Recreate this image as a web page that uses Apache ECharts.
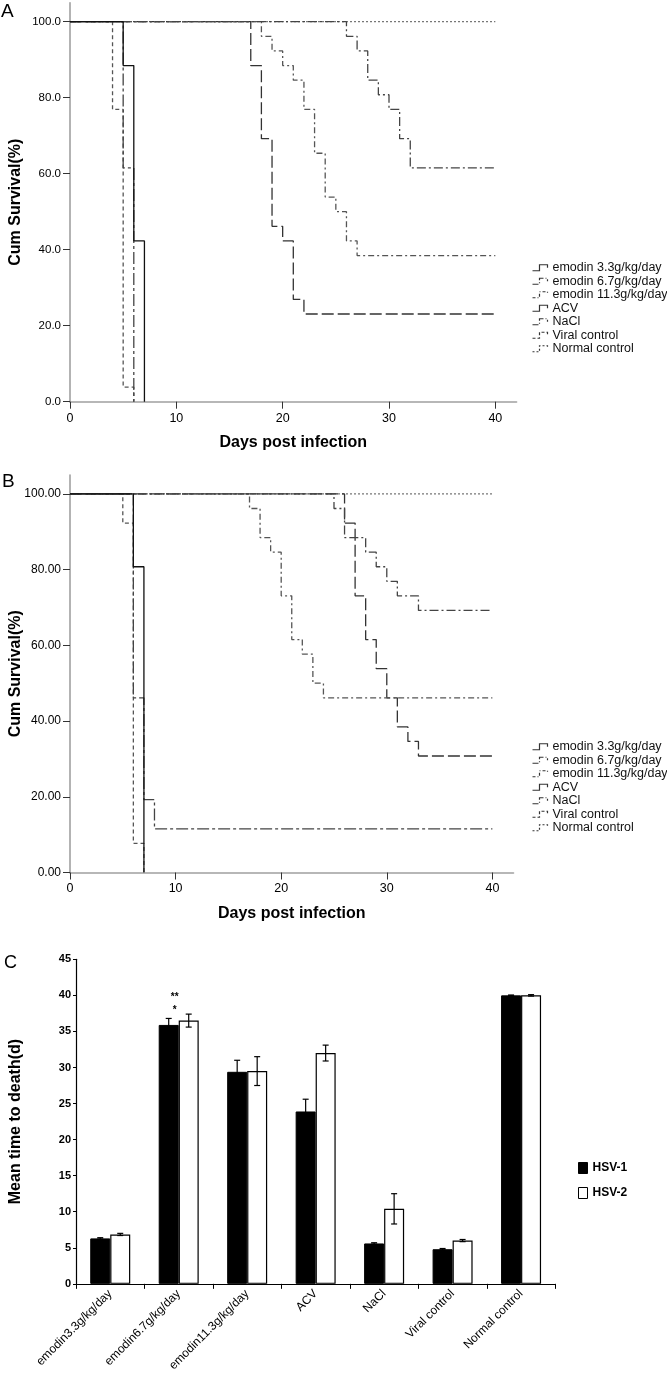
<!DOCTYPE html>
<html><head><meta charset="utf-8">
<script src="https://cdn.jsdelivr.net/npm/echarts@6/dist/echarts.min.js"></script>
<style>html,body{margin:0;padding:0;background:#fff}#c{width:667px;height:1374px}</style>
</head><body><div id="c"></div>
<script>
// ---------- data ----------
const groups = ['emodin 3.3g/kg/day','emodin 6.7g/kg/day','emodin 11.3g/kg/day','ACV','NaCl','Viral control','Normal control'];
const dayTicks = [0,10,20,30,40];
const survTicks = [0,20,40,60,80,100];

// Panel A (HSV-1) Kaplan-Meier steps: [day, cumulative survival %]
const A_emodin33 = [[0,100],[5,88.46],[6,42.31],[7,0]];
const A_emodin67 = [[0,100],[26,96.15],[27,92.31],[28,84.62],[29,80.77],[30,76.92],[31,69.23],[32,61.54],[40,61.54]];
const A_emodin113 = [[0,100],[18,96.15],[19,92.31],[20,88.46],[21,84.62],[22,76.92],[23,65.38],[24,53.85],[25,50],[26,42.31],[27,38.46],[40,38.46]];
const A_acv = [[0,100],[17,88.46],[18,69.23],[19,46.15],[20,42.31],[21,26.92],[22,23.08],[40,23.08]];
const A_nacl = [[0,100],[5,61.54],[6,0]];
const A_viral = [[0,100],[4,76.92],[5,3.85],[6,0]];
const A_normal = [[0,100],[40,100]];

// Panel B (HSV-2)
const B_emodin33 = [[0,100],[6,80.77],[7,0]];
const B_emodin67 = [[0,100],[25,96.15],[26,88.46],[28,84.62],[29,80.77],[30,76.92],[31,73.08],[33,69.23],[40,69.23]];
const B_emodin113 = [[0,100],[17,96.15],[18,88.46],[19,84.62],[20,73.08],[21,61.54],[22,57.69],[23,50],[24,46.15],[40,46.15]];
const B_acv = [[0,100],[26,92.31],[27,73.08],[28,61.54],[29,53.85],[30,46.15],[31,38.46],[32,34.62],[33,30.77],[40,30.77]];
const B_nacl = [[0,100],[6,46.15],[7,19.23],[8,11.54],[40,11.54]];
const B_viral = [[0,100],[5,92.31],[6,7.69],[7,0]];
const B_normal = [[0,100],[40,100]];

// Panel C
const barCats = ['emodin3.3g/kg/day','emodin6.7g/kg/day','emodin11.3g/kg/day','ACV','NaCl','Viral control','Normal control'];
const hsv1 = [6.3,35.9,29.4,23.9,5.6,4.8,40.0];
const hsv2 = [6.85,36.5,29.5,32.0,10.4,6.0,40.0];
const hsv1Err = [0.1,0.9,1.6,1.7,0.1,0.1,0.05];
const hsv2Err = [0.15,0.9,2.0,1.1,2.1,0.15,0.1];
const sigMarks = [{text:'**', cat:1, y:39.8},{text:'*', cat:1, y:37.9}];

// ---------- styles ----------
const FONT = 'Liberation Sans, Arial, sans-serif';
const lineStyles = [
  {color:'#111', width:1.3, type:'solid'},
  {color:'#444', width:1.3, type:[9,3,2,3]},
  {color:'#555', width:1.3, type:[6,3,2,3]},
  {color:'#333', width:1.3, type:[12,4]},
  {color:'#444', width:1.3, type:[12,3,3,3]},
  {color:'#555', width:1.3, type:[4,3]},
  {color:'#777', width:1.3, type:[2,2]}
];
const iconDash = ['solid',[6,2,1,2],[3,2,1,2],'solid',[6,2,1,2],[3,2],[2,2]];
const STEP_ICON = 'path://M0,7L7,7L7,1L15,1L15,4';
const A_sets = [A_emodin33,A_emodin67,A_emodin113,A_acv,A_nacl,A_viral,A_normal];
const B_sets = [B_emodin33,B_emodin67,B_emodin113,B_acv,B_nacl,B_viral,B_normal];

function kmSeries(sets, idx){
  return sets.map((d,i)=>({
    type:'line', name:groups[i], step:'end', symbol:'none', data:d,
    xAxisIndex:idx, yAxisIndex:idx, lineStyle:lineStyles[i], z: 10 - i,
    emphasis:{disabled:true}
  }));
}
function survX(idx){
  return {
    type:'value', gridIndex:idx, min:0, max:42,
    name:'Days post infection', nameLocation:'middle', nameGap:33, nameMoveOverlap:false,
    nameTextStyle:{fontFamily:FONT, fontSize:16, fontWeight:'bold', color:'#000'},
    axisLine:{lineStyle:{color:'#a0a0a0', width:1.6}},
    axisTick:{customValues:dayTicks, length:7, lineStyle:{color:'#333'}},
    axisLabel:{customValues:dayTicks, margin:10, fontFamily:FONT, fontSize:12.5, color:'#000'},
    splitLine:{show:false}
  };
}
function survY(idx, dec, fs){
  return {
    type:'value', gridIndex:idx, min:0, max:105,
    name:'Cum Survival(%)', nameLocation:'middle', nameGap:46, nameMoveOverlap:false,
    nameTextStyle:{fontFamily:FONT, fontSize:16, fontWeight:'bold', color:'#000'},
    axisLine:{show:true, lineStyle:{color:'#a0a0a0', width:1.6}},
    axisTick:{show:true, customValues:survTicks, length:7, lineStyle:{color:'#333'}},
    axisLabel:{customValues:survTicks, margin:9, fontFamily:FONT, fontSize:fs, color:'#000',
      formatter:v=>v.toFixed(dec)},
    splitLine:{show:false}
  };
}
function errRender(offset){
  return function(params, api){
    const i = api.value(0), v = api.value(1), e = api.value(2);
    const top = api.coord([i, v+e]), bot = api.coord([i, v-e]);
    const x = top[0] + offset;
    const st = {stroke:'#000', lineWidth:1.2};
    return {type:'group', children:[
      {type:'line', shape:{x1:x, y1:top[1], x2:x, y2:bot[1]}, style:st},
      {type:'line', shape:{x1:x-3, y1:top[1], x2:x+3, y2:top[1]}, style:st},
      {type:'line', shape:{x1:x-3, y1:bot[1], x2:x+3, y2:bot[1]}, style:st}
    ]};
  };
}
const legendKM = (top)=>({
  data:groups.map((g,i)=>({name:g, icon:STEP_ICON,
    itemStyle:{color:'none', borderColor:'#333', borderWidth:1.2, borderType:iconDash[i]}})),
  orient:'vertical', left:525, top:top, itemWidth:15, itemHeight:7, itemGap:0,
  selectedMode:false,
  textStyle:{fontFamily:FONT, fontSize:12.5, color:'#111', lineHeight:13.5}
});

const option = {
  animation:false,
  backgroundColor:'#fff',
  grid:[
    {left:63, top:2.7, width:453.6, height:399},
    {left:67, top:475, width:446.5, height:397.5},
    {left:69, top:959.3, width:486.3, height:327.7}
  ],
  legend:[
    legendKM(256),
    legendKM(735),
    {data:[{name:'HSV-1', itemStyle:{color:'#000', borderColor:'#000', borderWidth:1}},
           {name:'HSV-2', itemStyle:{color:'#fff', borderColor:'#000', borderWidth:1}}],
     orient:'vertical', left:573, top:1157, itemWidth:9, itemHeight:11, itemGap:13, icon:'rect',
     selectedMode:false,
     textStyle:{fontFamily:FONT, fontSize:12, fontWeight:'bold', color:'#000'}}
  ],
  xAxis:[
    survX(0), survX(1),
    {type:'category', gridIndex:2, data:barCats,
     axisLine:{lineStyle:{color:'#000', width:1.2}},
     axisTick:{show:true, length:5, lineStyle:{color:'#000'}},
     axisLabel:{rotate:45, interval:0, margin:8, fontFamily:FONT, fontSize:12, color:'#000'}}
  ],
  yAxis:[
    survY(0,1,11.5), survY(1,2,12),
    {type:'value', gridIndex:2, min:0, max:45, interval:5,
     name:'Mean time to death(d)', nameLocation:'middle', nameGap:52, nameMoveOverlap:false,
     nameTextStyle:{fontFamily:FONT, fontSize:16, fontWeight:'bold', color:'#000'},
     axisLine:{show:true, lineStyle:{color:'#000', width:1.2}},
     axisTick:{show:true, length:3, lineStyle:{color:'#000'}},
     axisLabel:{margin:5, fontFamily:FONT, fontSize:11, fontWeight:'bold', color:'#000'},
     splitLine:{show:false}}
  ],
  graphic:[
    {type:'text', left:1, top:2, style:{text:'A', fontFamily:FONT, fontSize:19, fill:'#000'}},
    {type:'text', left:2, top:472, style:{text:'B', fontFamily:FONT, fontSize:19, fill:'#000'}},
    {type:'text', left:4, top:954, style:{text:'C', fontFamily:FONT, fontSize:18, fill:'#000'}}
  ],
  series:[
    ...kmSeries(A_sets,0),
    ...kmSeries(B_sets,1),
    {type:'bar', name:'HSV-1', xAxisIndex:2, yAxisIndex:2, data:hsv1, barWidth:20, barGap:'0%',
     itemStyle:{color:'#000', borderColor:'#000', borderWidth:1},
     markPoint:{symbol:'circle', symbolSize:1, itemStyle:{color:'transparent'},
       label:{show:true, position:'inside', formatter:'{b}', fontFamily:FONT, fontSize:10, fontWeight:'bold', color:'#000', offset:[6,0]},
       data:sigMarks.map(m=>({name:m.text, coord:[m.cat, m.y]}))}},
    {type:'bar', name:'HSV-2', xAxisIndex:2, yAxisIndex:2, data:hsv2, barWidth:20, barGap:'0%',
     itemStyle:{color:'#fff', borderColor:'#000', borderWidth:1.2}},
    {type:'custom', name:'err1', xAxisIndex:2, yAxisIndex:2, renderItem:errRender(-10),
     data:hsv1.map((v,i)=>[i,v,hsv1Err[i]]), z:5},
    {type:'custom', name:'err2', xAxisIndex:2, yAxisIndex:2, renderItem:errRender(10),
     data:hsv2.map((v,i)=>[i,v,hsv2Err[i]]), z:5}
  ]
};
const chart = echarts.init(document.getElementById('c'), null, {renderer:'canvas'});
chart.setOption(option);
</script></body></html>
